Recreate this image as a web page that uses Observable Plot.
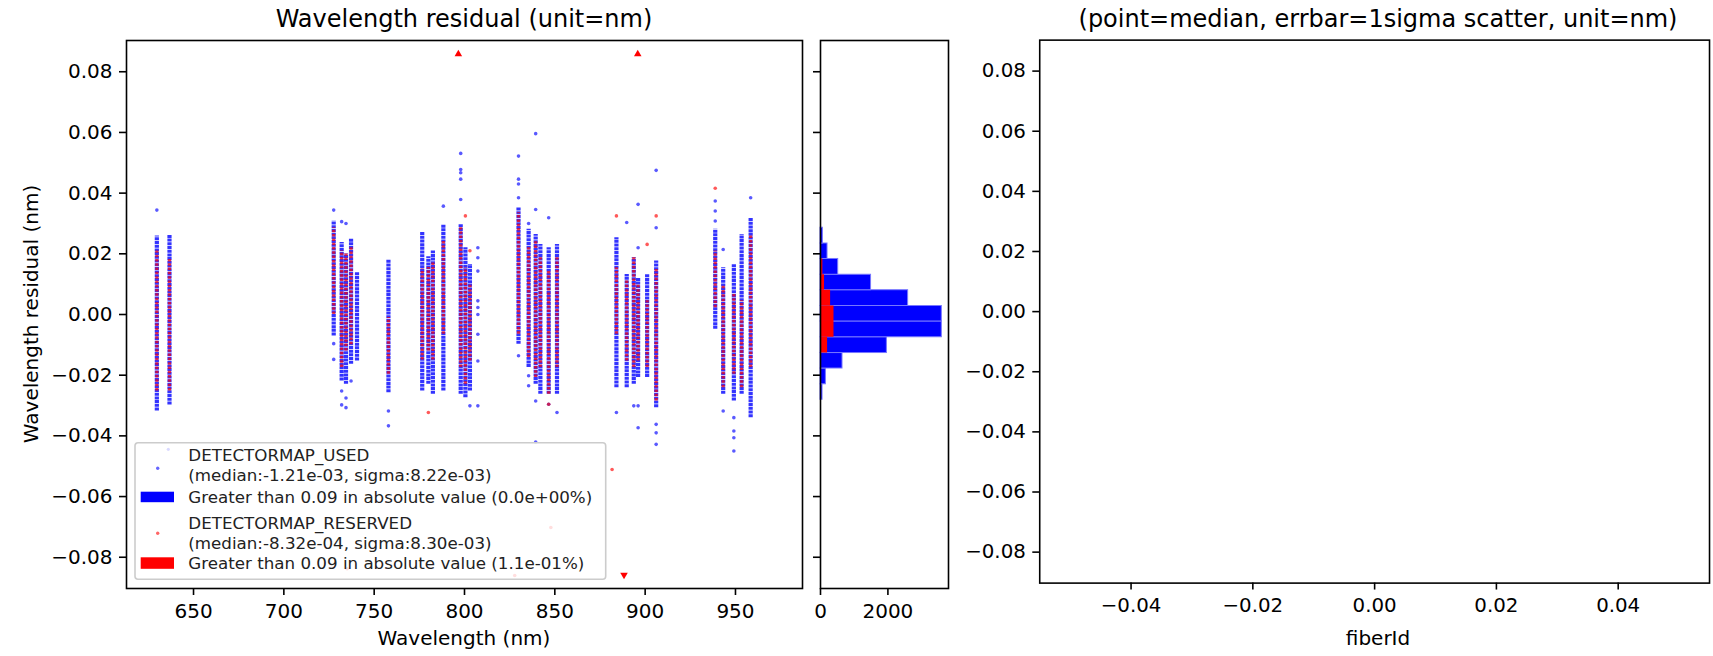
<!DOCTYPE html>
<html>
<head>
<meta charset="utf-8">
<script src="https://cdn.jsdelivr.net/npm/d3@7"></script>
<script src="https://cdn.jsdelivr.net/npm/@observablehq/plot@0.6"></script>
<style>
  html, body { margin: 0; padding: 0; background: #fff; }
  body { width: 1713px; height: 656px; overflow: hidden; font-family: "DejaVu Sans", sans-serif; }
  #wrap { position: relative; width: 1713px; height: 656px; overflow: hidden; }
  .panel { position: absolute; top: 0; }
  .panel svg { display: block; }
</style>
</head>
<body>
<div id="wrap">
  <div class="panel" id="p1" style="left:0px"></div>
  <div class="panel" id="p2" style="left:810px"></div>
  <div class="panel" id="p3" style="left:955px"></div>
</div>
<script>
// ---------------- data ----------------
const residualTicks = [-0.08, -0.06, -0.04, -0.02, 0, 0.02, 0.04, 0.06, 0.08];
const wavelengthTicks = [650, 700, 750, 800, 850, 900, 950];
const countTicks = [0, 2000];
const fiberTicks = [-0.04, -0.02, 0, 0.02, 0.04];

// DETECTORMAP_USED: dense range of residuals for each arc line (nm)
const usedLineWl = [629.7, 636.7, 727.6, 732.0, 734.4, 737.2, 740.5, 757.9, 776.6, 780.0, 782.5, 788.3, 797.9, 800.5, 803.0,
  829.9, 835.5, 839.4, 842.0, 846.6, 851.2, 884.1, 889.8, 893.7, 896.1, 901.1, 906.1, 938.8, 943.2, 949.1, 953.4, 958.4];
const usedLineLo = [-0.0318, -0.0298, -0.0071, -0.0219, -0.0230, -0.0164, -0.0153, -0.0258, -0.0252, -0.0230, -0.0263, -0.0252, -0.0263, -0.0274, -0.0252,
  -0.0098, -0.0175, -0.0230, -0.0263, -0.0263, -0.0263, -0.0241, -0.0241, -0.0230, -0.0208, -0.0208, -0.0307, -0.0049, -0.0263, -0.0285, -0.0263, -0.0340];
const usedLineHi = [0.0259, 0.0261, 0.0308, 0.0237, 0.0199, 0.0250, 0.0138, 0.0179, 0.0270, 0.0190, 0.0209, 0.0297, 0.0297, 0.0220, 0.0165,
  0.0352, 0.0281, 0.0264, 0.0231, 0.0220, 0.0231, 0.0253, 0.0132, 0.0187, 0.0121, 0.0132, 0.0176, 0.0281, 0.0154, 0.0165, 0.0264, 0.0319];

// DETECTORMAP_USED: isolated points
const usedPointWl = [629.7, 727.6, 727.6, 727.6, 732.0, 732.0, 732.0, 734.4, 734.4, 734.4, 737.2, 757.9, 757.9, 788.3,
  797.9, 797.9, 797.9, 797.9, 797.9, 803.0, 807.4, 807.4, 807.4, 807.4, 807.4, 807.4, 807.4, 807.4, 807.4,
  829.9, 829.9, 829.9, 829.9, 829.9, 835.5, 835.5, 835.5, 839.4, 839.4, 839.4, 839.4, 846.6, 846.6, 851.2, 884.1,
  889.8, 893.7, 896.1, 896.1, 896.1, 896.1, 906.1, 906.1, 906.1, 906.1, 906.1, 938.8, 938.8, 938.8, 943.2, 943.2,
  949.1, 949.1, 949.1, 949.1, 958.4];
const usedPointRes = [0.0344, 0.0344, -0.0096, -0.0148, 0.0306, -0.0252, -0.0298, 0.0300, -0.0275, -0.0307, -0.0219, -0.0318, -0.0367, 0.0357,
  0.0531, 0.0478, 0.0467, 0.0446, 0.0379, -0.0301, 0.0220, 0.0187, 0.0143, 0.0045, 0.0023, 0.0000, -0.0065, -0.0153, -0.0301,
  0.0522, 0.0446, 0.0430, 0.0385, -0.0136, 0.0300, -0.0202, -0.0235, 0.0596, 0.0346, -0.0285, -0.0420, 0.0319, -0.0296, -0.0323, -0.0323,
  0.0303, -0.0301, 0.0363, 0.0220, -0.0301, -0.0373, 0.0475, 0.0286, -0.0362, -0.0390, -0.0428, 0.0374, 0.0341, 0.0308, 0.0214, -0.0318,
  -0.0340, -0.0384, -0.0406, -0.0450, 0.0385];

// DETECTORMAP_RESERVED: dense range of residuals for each arc line (nm)
const resLineWl = [629.7, 636.7, 727.6, 732.0, 734.4, 737.2, 757.9, 776.6, 780.0, 782.5, 788.3, 797.9, 800.5, 803.0,
  829.9, 835.5, 839.4, 842.0, 846.6, 851.2, 884.1, 889.8, 893.7, 896.1, 901.1, 906.1, 938.8, 943.2, 949.1, 953.4, 958.4];
const resLineLo = [-0.0252, -0.0252, 0.0000, -0.0175, -0.0120, -0.0100, -0.0197, -0.0150, -0.0120, -0.0150, -0.0065, -0.0175, -0.0230, -0.0153,
  -0.0065, -0.0142, -0.0208, -0.0175, -0.0263, -0.0175, -0.0065, -0.0153, -0.0175, -0.0153, -0.0175, -0.0285, 0.0022, -0.0241, -0.0197, -0.0241, -0.0175];
const resLineHi = [0.0209, 0.0187, 0.0286, 0.0209, 0.0199, 0.0226, -0.0010, 0.0150, 0.0155, 0.0176, 0.0242, 0.0286, 0.0154, 0.0099,
  0.0335, 0.0220, 0.0242, 0.0187, 0.0143, 0.0187, 0.0154, 0.0110, 0.0187, 0.0099, 0.0045, 0.0154, 0.0209, 0.0099, 0.0066, 0.0045, 0.0264];

// DETECTORMAP_RESERVED: isolated points
const resPointWl = [780.0, 800.5, 803.0, 846.6, 884.1, 901.1, 906.1, 938.8, 881.7, 847.8, 735.0, 827.8];
const resPointRes = [-0.0323, 0.0325, 0.0210, -0.0296, 0.0325, 0.0231, 0.0325, 0.0416, -0.0511, -0.0702, -0.0838, -0.0860];

// RESERVED points beyond the axis limit (shown as arrows)
const clippedWl = [796.6, 895.9, 888.3];
const clippedRes = [0.0858, 0.0858, -0.0858];
const clippedDir = [1, 1, -1];

// Histogram of residuals
const binLo = [-0.0281, -0.0230, -0.0178, -0.0127, -0.0075, -0.0023, 0.0028, 0.0080, 0.0131, 0.0183, 0.0234];
const binHi = [-0.0230, -0.0178, -0.0127, -0.0075, -0.0023, 0.0028, 0.0080, 0.0131, 0.0183, 0.0234, 0.0286];
const usedCount = [60, 160, 653, 1970, 3600, 3600, 2600, 1500, 525, 208, 70];
const resCount = [5, 10, 30, 210, 400, 400, 300, 120, 70, 20, 5];

const legendLabels = [
  ["DETECTORMAP_USED", "(median:-1.21e-03, sigma:8.22e-03)"],
  ["Greater than 0.09 in absolute value (0.0e+00%)"],
  ["DETECTORMAP_RESERVED", "(median:-8.32e-04, sigma:8.30e-03)"],
  ["Greater than 0.09 in absolute value (1.1e-01%)"]
];

// ---------------- tables ----------------
const usedLines = usedLineWl.map((wl, i) => ({wl, lo: usedLineLo[i], hi: usedLineHi[i]}));
const usedPoints = usedPointWl.map((wl, i) => ({wl, res: usedPointRes[i]}));
const resLines = resLineWl.map((wl, i) => ({wl, lo: resLineLo[i], hi: resLineHi[i]}));
const resPoints = resPointWl.map((wl, i) => ({wl, res: resPointRes[i]}));
const clipped = clippedWl.map((wl, i) => ({wl, res: clippedRes[i], dir: clippedDir[i]}));
const bins = binLo.map((lo, i) => ({lo, hi: binHi[i], used: usedCount[i], res: resCount[i]}));

// ---------------- drawing ----------------
const fmt = d3.format(".2f");
const yDomain = [-0.0903, 0.0903];
const baseStyle = {fontFamily: "'DejaVu Sans', sans-serif", fontSize: "20px", color: "#000", background: "transparent", overflow: "visible"};
const axisOpts = {tickSize: 7, strokeWidth: 1.6, label: null};

const p1 = Plot.plot({
  width: 810, height: 656,
  marginLeft: 126, marginRight: 8, marginTop: 40, marginBottom: 68,
  style: baseStyle,
  x: {domain: [612.9, 987.1]},
  y: {domain: yDomain},
  marks: [
    Plot.ruleX(usedLines, {x: "wl", y1: "lo", y2: "hi", stroke: "blue", strokeWidth: 4.2, strokeOpacity: 0.8, strokeDasharray: "3,0.7"}),
    Plot.dot(usedPoints, {x: "wl", y: "res", r: 1.8, fill: "blue", fillOpacity: 0.65}),
    Plot.ruleX(resLines, {x: "wl", y1: "lo", y2: "hi", stroke: "red", strokeWidth: 3.2, strokeOpacity: 0.7, strokeDasharray: "2.5,1.8"}),
    Plot.dot(resPoints, {x: "wl", y: "res", r: 1.8, fill: "red", fillOpacity: 0.65}),
    Plot.dot(clipped, {x: "wl", y: "res", symbol: "triangle", r: 2.8, fill: "red", rotate: d => d.dir < 0 ? 180 : 0}),
    Plot.frame({stroke: "#000", strokeWidth: 1.6}),
    Plot.axisX({...axisOpts, ticks: wavelengthTicks, tickPadding: 8}),
    Plot.axisY({...axisOpts, ticks: residualTicks, tickFormat: fmt, tickPadding: 7})
  ]
});
document.getElementById("p1").appendChild(p1);

const p2 = Plot.plot({
  width: 145, height: 656,
  marginLeft: 10, marginRight: 7, marginTop: 40, marginBottom: 68,
  style: baseStyle,
  x: {domain: [0, 3798]},
  y: {domain: yDomain},
  marks: [
    Plot.rect(bins, {x1: 0, x2: "used", y1: "lo", y2: "hi", fill: "blue", stroke: "#7777ff", strokeWidth: 1}),
    Plot.rect(bins, {x1: 0, x2: "res", y1: "lo", y2: "hi", fill: "red"}),
    Plot.frame({stroke: "#000", strokeWidth: 1.6}),
    Plot.axisX({...axisOpts, ticks: countTicks, tickFormat: d3.format("d"), tickPadding: 8}),
    Plot.axisY({...axisOpts, ticks: residualTicks, tickFormat: () => "", tickPadding: 7})
  ]
});
document.getElementById("p2").appendChild(p2);

const p3 = Plot.plot({
  width: 765, height: 656,
  marginLeft: 85, marginRight: 4, marginTop: 40, marginBottom: 68,
  style: baseStyle,
  x: {domain: [-0.055, 0.055]},
  y: {domain: yDomain},
  marks: [
    Plot.frame({stroke: "#000", strokeWidth: 1.6}),
    Plot.axisX({...axisOpts, ticks: fiberTicks, tickFormat: fmt, tickPadding: 8}),
    Plot.axisY({...axisOpts, ticks: residualTicks, tickFormat: fmt, tickPadding: 7})
  ]
});
document.getElementById("p3").appendChild(p3);

// ---------------- titles, axis labels, legend ----------------
const ov = d3.create("svg")
  .attr("width", 1713).attr("height", 656)
  .style("position", "absolute").style("left", "0px").style("top", "0px")
  .style("pointer-events", "none")
  .style("font-family", "'DejaVu Sans', sans-serif");

ov.append("text").attr("x", 464).attr("y", 27).attr("text-anchor", "middle").attr("font-size", 24)
  .text("Wavelength residual (unit=nm)");
ov.append("text").attr("x", 1378).attr("y", 27).attr("text-anchor", "middle").attr("font-size", 24)
  .text("(point=median, errbar=1sigma scatter, unit=nm)");
ov.append("text").attr("x", 464).attr("y", 645).attr("text-anchor", "middle").attr("font-size", 20)
  .text("Wavelength (nm)");
ov.append("text").attr("x", 1378).attr("y", 645).attr("text-anchor", "middle").attr("font-size", 20)
  .text("fiberId");
ov.append("text").attr("transform", "translate(38,314) rotate(-90)").attr("text-anchor", "middle").attr("font-size", 20)
  .text("Wavelength residual (nm)");

// legend box
const lg = ov.append("g").attr("transform", "translate(135,442.7)");
lg.append("rect").attr("x", 0).attr("y", 0).attr("width", 470.7).attr("height", 136.6).attr("rx", 3)
  .attr("fill", "#fff").attr("fill-opacity", 0.8).attr("stroke", "#cccccc").attr("stroke-width", 1.6);
lg.append("circle").attr("cx", 33.3).attr("cy", 6.6).attr("r", 1.6).attr("fill", "blue").attr("fill-opacity", 0.15);
lg.append("circle").attr("cx", 22.7).attr("cy", 25.6).attr("r", 1.7).attr("fill", "blue").attr("fill-opacity", 0.6);
lg.append("rect").attr("x", 5.7).attr("y", 49).attr("width", 33.3).attr("height", 10.5).attr("fill", "blue");
lg.append("circle").attr("cx", 22.7).attr("cy", 90.6).attr("r", 1.7).attr("fill", "red").attr("fill-opacity", 0.6);
lg.append("rect").attr("x", 5.7).attr("y", 114.6).attr("width", 33.3).attr("height", 11.5).attr("fill", "red");

const legendBaselines = [[18.8, 38.8], [60.8], [86.8, 106.8], [126.1]];
legendLabels.forEach((lines, i) => {
  lines.forEach((t, j) => {
    lg.append("text").attr("x", 53.3).attr("y", legendBaselines[i][j]).attr("font-size", 16.7).attr("fill", "#222").text(t);
  });
});

document.getElementById("wrap").appendChild(ov.node());
</script>
</body>
</html>
